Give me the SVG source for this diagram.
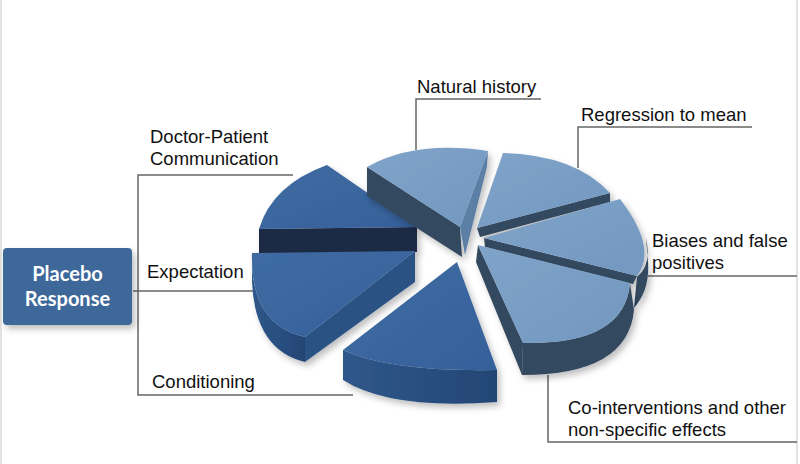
<svg xmlns="http://www.w3.org/2000/svg" width="800" height="464" viewBox="0 0 800 464">
<defs>
<style>
.lbl{font-family:"Liberation Sans",Arial,sans-serif;font-size:18.5px;fill:#111}
.con{stroke:#666;stroke-width:1.5;fill:none}
.dTop{fill:url(#gDark)}
.dSide{fill:#2c5384}
.dDeep{fill:#1b2b44}
.lTop{fill:url(#gLight)}
.lSide{fill:#33485f}
.lEdge{fill:#5b7fa5}
</style>
<linearGradient id="gDark" x1="0" y1="0" x2="1" y2="1">
<stop offset="0" stop-color="#3f6ba2"/><stop offset="1" stop-color="#35609a"/>
</linearGradient>
<linearGradient id="gLight" x1="0" y1="0" x2="1" y2="1">
<stop offset="0" stop-color="#7fa3c9"/><stop offset="1" stop-color="#7398c0"/>
</linearGradient>
<linearGradient id="gDarkSide" x1="0" y1="0" x2="1" y2="0">
<stop offset="0" stop-color="#2f5789"/><stop offset="1" stop-color="#234676"/>
</linearGradient>
<filter id="sh" x="-20%" y="-20%" width="140%" height="140%">
<feDropShadow dx="3" dy="4" stdDeviation="3" flood-color="#000" flood-opacity="0.25"/>
</filter>
</defs>
<rect width="800" height="464" fill="#fff"/>
<line x1="1" y1="0" x2="1" y2="464" stroke="#d8d8d8" stroke-width="1.5"/>
<line x1="797" y1="0" x2="797" y2="464" stroke="#d8d8d8" stroke-width="1.5"/>

<g id="connectors">
<polyline class="con" points="293,175 138,175 138,395 353,395"/>
<line class="con" x1="133" y1="291" x2="253" y2="291"/>
<polyline class="con" points="541,99 416,99 416,150"/>
<polyline class="con" points="752,127 578,127 578,168"/>
<line class="con" x1="648" y1="276" x2="797" y2="276"/>
<polyline class="con" points="548,375 548,442 797,442"/>
</g>

<g id="placebo-response">
<rect x="3" y="248" width="129" height="77" rx="4" fill="#3d6799" filter="url(#sh)"/>
<text x="67.5" y="281" text-anchor="middle" font-family="Lato,'Open Sans',sans-serif" font-weight="bold" font-size="20" fill="#fff">Placebo</text>
<text x="67.5" y="306" text-anchor="middle" font-family="Lato,'Open Sans',sans-serif" font-weight="bold" font-size="20" fill="#fff">Response</text>
</g>

<g id="slice-doctor-patient" filter="url(#sh)">
<path class="dDeep" d="M259,229 L417,227 L417,252 L259,254 Z"/>
<path class="dTop" d="M327,165 Q272,185 259,229 L417,227 Z"/>
</g>
<g id="slice-expectation" filter="url(#sh)">
<path fill="url(#gDarkSide)" d="M252,253 Q250,325 305,337 L305,362 Q255,350 252,282 Z"/>
<path class="dSide" d="M415,251 L305,337 L305,362 L415,282 Z"/>
<path class="dTop" d="M252,253 L415,251 L305,337 Q250,325 252,253 Z"/>
</g>
<g id="slice-conditioning" filter="url(#sh)">
<path fill="url(#gDarkSide)" d="M343,350 Q390,372 497,370 L497,402 Q390,410 343,380 Z"/>
<path class="dTop" d="M457,262 L343,350 Q390,372 497,370 Z"/>
</g>
<g id="slice-natural-history" filter="url(#sh)">
<path class="lSide" d="M367,167 L460,227 L462,257 L367,196 Z"/>
<path class="lEdge" d="M488,151 L487,167 L465,255 L460,227 Z"/>
<path class="lTop" d="M367,167 Q415,140 488,151 L460,227 Z"/>
</g>
<g id="slice-regression" filter="url(#sh)">
<path class="lSide" d="M477,228 L610,193 L610,202 L480,237 Z"/>
<path class="lTop" d="M477,228 L503,153 Q575,155 610,193 Z"/>
</g>
<g id="slice-biases" filter="url(#sh)">
<path class="lSide" d="M646,238 Q652,265 637,277 L634,308 Q650,290 648,262 Z"/>
<path class="lSide" d="M484,238 L637,276 L633,284 L485,247 Z"/>
<path class="lTop" d="M484,238 L620,199 Q658,248 637,276 Z"/>
</g>
<g id="slice-co-interventions" filter="url(#sh)">
<path class="lSide" d="M478,245 L523,343 L522,375 L476,262 Z"/>
<path class="lSide" d="M630,283 Q625,345 523,343 L522,375 Q628,375 634,310 Z"/>
<path class="lTop" d="M478,245 L630,283 Q625,345 523,343 Z"/>
</g>

<g id="label-doctor-patient"><text class="lbl" x="150" y="143">Doctor-Patient</text><text class="lbl" x="150" y="165">Communication</text></g>
<g id="label-expectation"><text class="lbl" x="147" y="278">Expectation</text></g>
<g id="label-conditioning"><text class="lbl" x="152" y="388">Conditioning</text></g>
<g id="label-natural-history"><text class="lbl" x="417" y="93">Natural history</text></g>
<g id="label-regression"><text class="lbl" x="581" y="121">Regression to mean</text></g>
<g id="label-biases"><text class="lbl" x="652" y="247">Biases and false</text><text class="lbl" x="652" y="269">positives</text></g>
<g id="label-co-interventions"><text class="lbl" x="568" y="414">Co-interventions and other</text><text class="lbl" x="568" y="436">non-specific effects</text></g>
</svg>
